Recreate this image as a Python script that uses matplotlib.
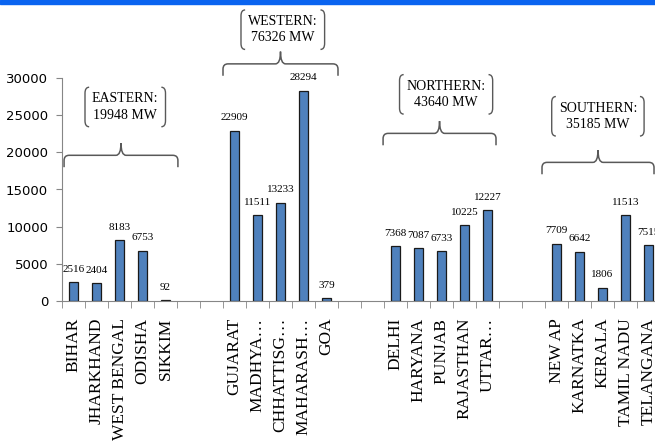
import numpy as np
import matplotlib
matplotlib.use("Agg")
import matplotlib.pyplot as plt
from matplotlib.path import Path
from matplotlib.patches import PathPatch, Rectangle

# installed capacity by state (MW), grouped by region
eastern_states = ["BIHAR", "JHARKHAND", "WEST BENGAL", "ODISHA", "SIKKIM"]
eastern_mw = [2516, 2404, 8183, 6753, 92]
western_states = ["GUJARAT", "MADHYA…", "CHHATTISG…", "MAHARASH…", "GOA"]
western_mw = [22909, 11511, 13233, 28294, 379]
northern_states = ["DELHI", "HARYANA", "PUNJAB", "RAJASTHAN", "UTTAR…"]
northern_mw = [7368, 7087, 6733, 10225, 12227]
southern_states = ["NEW AP", "KARNATKA", "KERALA", "TAMIL NADU", "TELANGANA"]
southern_mw = [7709, 6642, 1806, 11513, 7515]

region_names = ["EASTERN", "WESTERN", "NORTHERN", "SOUTHERN"]
region_totals = [19948, 76326, 43640, 35185]

groups = [(eastern_states, eastern_mw), (western_states, western_mw),
          (northern_states, northern_mw), (southern_states, southern_mw)]

# brace layout per region: (left, right, brace top, text x, text y) in data units
brace_layout = [(-0.41, 4.54, 19600, 2.25, 26100),
                (6.5, 11.5, 31900, 9.1, 36500),
                (13.46, 18.37, 22550, 16.2, 27800),
                (20.37, 25.24, 18650, 22.8, 24850)]

GAP = 2
labels, values, xpos = [], [], []
pos = 0
for states, mw in groups:
    for s, v in zip(states, mw):
        labels.append(s)
        values.append(v)
        xpos.append(pos)
        pos += 1
    pos += GAP
n_slots = pos - GAP

W, H = 655, 444
fig = plt.figure(figsize=(W / 100, H / 100), dpi=100)
fig.patches.append(Rectangle((0, 1 - 4 / H), 1, 4 / H, transform=fig.transFigure,
                             color="#0a64f0", zorder=10))

ax = fig.add_axes([62 / W, (H - 301) / H, 23 * n_slots / W, 223 / H])
ax.bar(xpos, values, width=0.42, color="#4f81bd", edgecolor="#1a1a1a", linewidth=0.9)
for x, v in zip(xpos, values):
    ax.annotate(str(v), (x, v), xytext=(0, 6), textcoords="offset points",
                ha="center", va="bottom", fontsize=8, family="Liberation Serif")

ax.set_xlim(-0.5, n_slots - 0.5)
ax.set_ylim(0, 30000)
ax.set_yticks(np.arange(0, 30001, 5000))
ax.tick_params(axis="y", labelsize=9.5, length=4, color="#868686", pad=6)
ax.set_xticks(xpos, labels, rotation=90, family="Liberation Serif", fontsize=12.5)
ax.tick_params(axis="x", which="major", length=0, pad=12)
ax.set_xticks(np.arange(-0.5, n_slots, 1), minor=True)
ax.tick_params(axis="x", which="minor", length=5, color="#868686")
for lab in ax.get_xticklabels():
    lab.set_verticalalignment("top")
for side in ["top", "right"]:
    ax.spines[side].set_visible(False)
for side in ["left", "bottom"]:
    ax.spines[side].set_color("#868686")

line_col = "#595959"
rx, ry = 0.22, 700      # corner radius in data units
depth, tip = 1600, 1650


def brace(x0, x1, yt):
    xm = (x0 + x1) / 2
    verts = [(x0, yt - depth), (x0, yt - ry), (x0, yt), (x0 + rx, yt),
             (xm - rx, yt), (xm, yt), (xm, yt + tip),
             (xm, yt), (xm + rx, yt), (x1 - rx, yt),
             (x1, yt), (x1, yt - ry), (x1, yt - depth)]
    codes = [Path.MOVETO, Path.LINETO, Path.CURVE3, Path.CURVE3,
             Path.LINETO, Path.CURVE3, Path.CURVE3,
             Path.CURVE3, Path.CURVE3, Path.LINETO,
             Path.CURVE3, Path.CURVE3, Path.LINETO]
    ax.add_patch(PathPatch(Path(verts, codes), fill=False, edgecolor=line_col,
                           linewidth=1.1, clip_on=False))


texts = []
for name, total, (x0, x1, yt, tx, ty) in zip(region_names, region_totals, brace_layout):
    brace(x0, x1, yt)
    t = ax.text(tx, ty, f"{name}:\n{total} MW", ha="center", va="center",
                fontsize=10, family="Liberation Serif", linespacing=1.35,
                clip_on=False)
    texts.append(t)

# rounded bracket frame around each region label
fig.canvas.draw()
renderer = fig.canvas.get_renderer()
inv = ax.transData.inverted()
for t in texts:
    bb = t.get_window_extent(renderer)
    (l, b) = inv.transform((bb.x0 - 7, bb.y0 - 5))
    (r, top) = inv.transform((bb.x1 + 7, bb.y1 + 5))
    cx, cy = 0.18, 800
    for xe, d in [(l, 1), (r, -1)]:
        verts = [(xe + d * cx, b), (xe, b), (xe, b + cy),
                 (xe, top - cy), (xe, top), (xe + d * cx, top)]
        codes = [Path.MOVETO, Path.CURVE3, Path.CURVE3,
                 Path.LINETO, Path.CURVE3, Path.CURVE3]
        ax.add_patch(PathPatch(Path(verts, codes), fill=False, edgecolor=line_col,
                               linewidth=1.0, clip_on=False))

fig.savefig("out.png", dpi=100)
